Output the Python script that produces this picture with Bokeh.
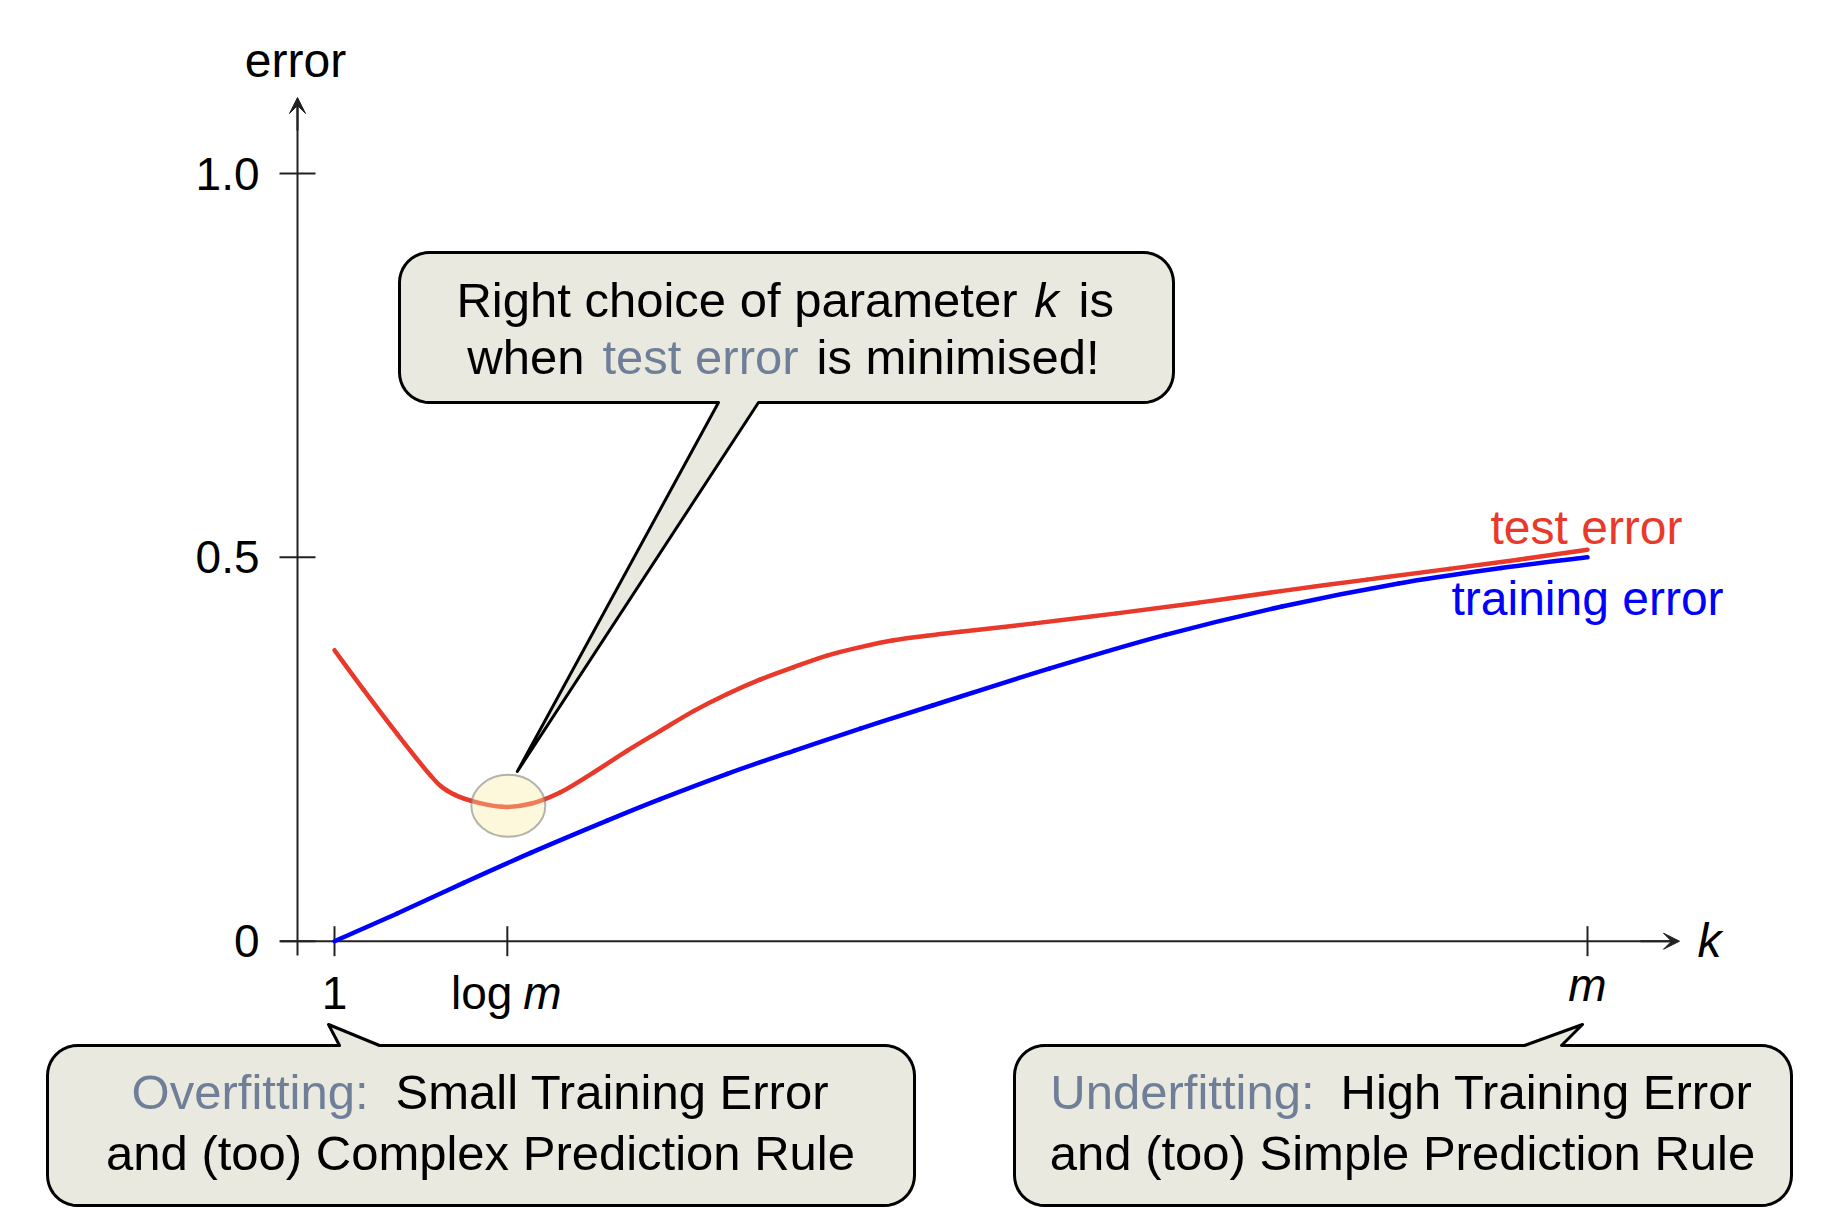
import math
from bokeh.plotting import figure
from bokeh.models import Range1d, Arrow, VeeHead
from bokeh.core.properties import value
from bokeh.embed import file_html
from bokeh.resources import INLINE

# ---------------- data ----------------
k_test = [1.0, 1.68, 2.45, 3.22, 3.61, 4.15, 4.88, 5.54, 6.23, 7.00, 7.77, 8.54, 9.32,
          10.09, 10.86, 11.63, 12.40, 13.17, 13.94, 14.72, 15.49, 17.2, 19.1, 21.0,
          22.9, 24.9, 26.8, 28.4, 30.0]
test_error = [0.379, 0.327, 0.270, 0.216, 0.196, 0.183, 0.175, 0.179, 0.194, 0.220,
              0.248, 0.274, 0.300, 0.322, 0.341, 0.357, 0.372, 0.383, 0.392, 0.398,
              0.403, 0.414, 0.427, 0.441, 0.456, 0.471, 0.485, 0.497, 0.510]
k_train = [1.0, 2.45, 3.99, 5.54, 7.31, 8.54, 10.09, 11.63, 13.17, 14.84, 17.54, 20.23,
           22.93, 25.63, 28.0, 30.0]
training_error = [0.0, 0.036, 0.076, 0.115, 0.157, 0.185, 0.218, 0.248, 0.277, 0.307,
                  0.355, 0.399, 0.436, 0.466, 0.486, 0.500]
y_ticks = [0.0, 0.5, 1.0]
y_tick_labels = ["0", "0.5", "1.0"]
k_ticks = [1, 5, 30]            # 1, log m, m
k_min = 5                        # location of the minimum of the test error
test_min = 0.175

# ---------------- layout helpers (pixel <-> data) ----------------
W, H = 1827, 1232
K1_PX = 334.0
PX_K = (1587.0 - 334.0) / 29.0
Y0_PX = 940.7
PX_Y = 767.7


def dx(px):
    return 1 + (px - K1_PX) / PX_K


def dy(py):
    return (Y0_PX - py) / PX_Y


def kpx(k):
    return K1_PX + (k - 1) * PX_K


def ypx(y):
    return Y0_PX - y * PX_Y


FONT = "Liberation Sans"
RED = "#e8392b"
BLUE = "#0000ff"
SLATE = "#6f7f98"
BOXFILL = "#e9e9e0"
AXIS = "#222222"

p = figure(width=W, height=H, x_range=Range1d(dx(0), dx(W)), y_range=Range1d(dy(H), dy(0)),
           x_axis_location=None, y_axis_location=None, toolbar_location=None,
           output_backend="svg", min_border=0, outline_line_color=None)
p.grid.grid_line_color = None
p.background_fill_color = "white"
p.border_fill_color = "white"


def txt(px, py, s, size, color="black", align="center", baseline="alphabetic", style="normal"):
    p.text(x=[dx(px)], y=[dy(py)], text=[s], text_font=value(FONT),
           text_font_size=f"{size}px", text_color=color, text_align=align,
           text_baseline=baseline, text_font_style=style)


# ---------------- axes ----------------
AX_X = 297.0
p.segment(x0=[dx(AX_X)], y0=[dy(955)], x1=[dx(AX_X)], y1=[dy(100)], line_color=AXIS, line_width=2)
p.segment(x0=[dx(280)], y0=[0], x1=[dx(1675)], y1=[0], line_color=AXIS, line_width=2)
p.add_layout(Arrow(end=VeeHead(size=16, fill_color=AXIS, line_color=AXIS, line_width=1),
                   x_start=dx(AX_X), y_start=dy(130), x_end=dx(AX_X), y_end=dy(97),
                   line_color=AXIS, line_width=2))
p.add_layout(Arrow(end=VeeHead(size=16, fill_color=AXIS, line_color=AXIS, line_width=1),
                   x_start=dx(1640), y_start=0, x_end=dx(1679), y_end=0,
                   line_color=AXIS, line_width=2))

# y ticks
p.segment(x0=[dx(AX_X - 18)] * len(y_ticks), y0=y_ticks, x1=[dx(AX_X + 18)] * len(y_ticks),
          y1=y_ticks, line_color=AXIS, line_width=2)
for yv, lab in zip(y_ticks, y_tick_labels):
    txt(259, ypx(yv), lab, 46, align="right", baseline="middle")

# x ticks
p.segment(x0=k_ticks, y0=[dy(Y0_PX - 15)] * len(k_ticks), x1=k_ticks,
          y1=[dy(Y0_PX + 15)] * len(k_ticks), line_color=AXIS, line_width=2)
txt(kpx(k_ticks[0]), 992, "1", 46)
txt(kpx(k_ticks[1]) + 5, 992, "log", 46, align="right")
txt(kpx(k_ticks[1]) + 16, 992, "m", 46, align="left", style="italic")
txt(kpx(k_ticks[2]), 984, "m", 46, style="italic")

txt(295, 60, "error", 48)
txt(1709, 940, "k", 48, baseline="middle", style="italic")


# ---------------- curves (smooth Catmull-Rom bezier through the read points) ----------------
def smooth(xs, ys, color):
    n = len(xs)
    X0, Y0, X1, Y1, CX0, CY0, CX1, CY1 = [], [], [], [], [], [], [], []
    for i in range(n - 1):
        im = max(i - 1, 0)
        ip2 = min(i + 2, n - 1)
        X0.append(xs[i]); Y0.append(ys[i]); X1.append(xs[i + 1]); Y1.append(ys[i + 1])
        CX0.append(xs[i] + (xs[i + 1] - xs[im]) / 6.0)
        CY0.append(ys[i] + (ys[i + 1] - ys[im]) / 6.0)
        CX1.append(xs[i + 1] - (xs[ip2] - xs[i]) / 6.0)
        CY1.append(ys[i + 1] - (ys[ip2] - ys[i]) / 6.0)
    p.bezier(x0=X0, y0=Y0, x1=X1, y1=Y1, cx0=CX0, cy0=CY0, cx1=CX1, cy1=CY1,
             line_color=color, line_width=4.5, line_cap="round")


smooth(k_train, training_error, BLUE)
smooth(k_test, test_error, RED)

txt(1586, 527, "test error", 48, color=RED)
txt(1587, 598, "training error", 48, color=BLUE)

# highlight of the minimum
p.ellipse(x=[dx(kpx(k_min) + 1)], y=[dy(ypx(test_min) - 1)], width=74, height=62,
          width_units="screen", height_units="screen",
          fill_color="#fbe9a0", fill_alpha=0.38, line_color="#777777", line_alpha=0.55, line_width=2)


# ---------------- callouts ----------------
def callout(x0, y0, x1, y1, r, side, base_a, base_b, tip):
    pts = []

    def arc(cx, cy, a0, a1, n=10):
        for i in range(n + 1):
            a = a0 + (a1 - a0) * i / n
            pts.append((cx + r * math.cos(a), cy + r * math.sin(a)))

    arc(x0 + r, y0 + r, math.pi, 1.5 * math.pi)
    if side == "top":
        pts += [(base_a, y0), tip, (base_b, y0)]
    arc(x1 - r, y0 + r, 1.5 * math.pi, 2 * math.pi)
    arc(x1 - r, y1 - r, 0, 0.5 * math.pi)
    if side == "bottom":
        pts += [(base_b, y1), tip, (base_a, y1)]
    arc(x0 + r, y1 - r, 0.5 * math.pi, math.pi)
    xs = [dx(a) for a, b in pts]
    ys = [dy(b) for a, b in pts]
    p.patch(xs, ys, fill_color=BOXFILL, line_color="black", line_width=3, line_join="round")


callout(399, 252, 1173, 402, 30, "bottom", 718, 758, (kpx(k_min) + 10, 771))
callout(47, 1045, 914, 1205, 30, "top", 339, 379, (kpx(k_ticks[0]) - 6, 1024))
callout(1014, 1045, 1791, 1205, 30, "top", 1524, 1561, (kpx(k_ticks[2]) - 5, 1024))

BS = 49
# top box text
txt(1017, 299, "Right choice of parameter", BS, align="right")
txt(1046, 299, "k", BS, style="italic")
txt(1078, 299, "is", BS, align="left")
txt(700, 356, "test error", BS, color=SLATE)
txt(584, 356, "when", BS, align="right")
txt(816, 356, "is minimised!", BS, align="left")

# bottom left
txt(368, 1091, "Overfitting:", BS, color=SLATE, align="right")
txt(395, 1091, "Small Training Error", BS, align="left")
txt(480, 1152, "and (too) Complex Prediction Rule", BS)

# bottom right
txt(1314, 1091, "Underfitting:", BS, color=SLATE, align="right")
txt(1340, 1091, "High Training Error", BS, align="left")
txt(1402, 1152, "and (too) Simple Prediction Rule", BS)

open("out.html", "w").write(file_html(p, INLINE))
